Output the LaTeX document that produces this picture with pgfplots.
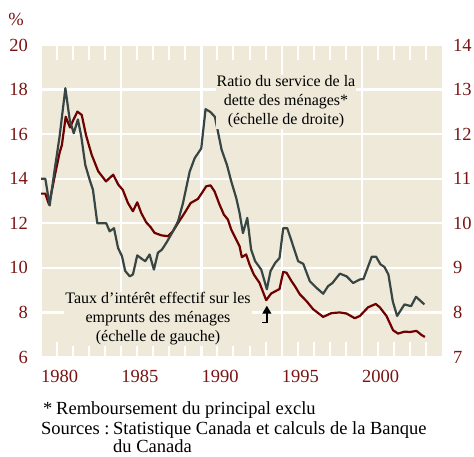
\documentclass[border=0pt]{standalone}
\usepackage{fontspec}
\setmainfont{Liberation Serif}
\usepackage{pgfplots}
\pgfplotsset{compat=1.18}
\usetikzlibrary{arrows.meta}
\definecolor{bg}{RGB}{238,233,216}
\definecolor{redl}{RGB}{110,0,0}
\definecolor{grnl}{RGB}{55,70,68}
\definecolor{lab}{RGB}{122,20,20}
\newcommand{\tickfont}{\fontsize{18.5bp}{20bp}\selectfont}
\newcommand{\annfont}{\fontsize{16bp}{19bp}\selectfont}
\newcommand{\notefont}{\fontsize{18.5bp}{21bp}\selectfont}
\begin{document}
\begin{tikzpicture}[x=1bp,y=1bp]
\path[use as bounding box] (0,0) rectangle (474,457);
\begin{axis}[
  at={(41bp,100bp)}, anchor=south west,
  scale only axis, width=401bp, height=312bp,
  xmin=1980, xmax=2005, ymin=6, ymax=20,
  axis background/.style={fill=bg},
  axis line style={draw=none},
  xtick={1980,1985,1990,1995,2000},
  minor xtick={1981,1982,1983,1984,1986,1987,1988,1989,1991,1992,1993,1994,1996,1997,1998,1999,2001,2002,2003,2004},
  ytick={6,8,...,20},
  ytick pos=left,
  xtick pos=both,
  tick align=inside,
  major tick length=15bp, minor tick length=15bp,
  xtick style={white, line width=2bp},
  minor x tick style={white, line width=2bp},
  ytick style={draw=none},
  xmajorgrids, ymajorgrids,
  major grid style={white, line width=2.2bp},
  /pgf/number format/assume math mode=true,
  /pgf/number format/1000 sep={},
  xticklabel style={anchor=north west, inner sep=0pt, yshift=-13bp, text=lab, font=\tickfont},
  yticklabel style={anchor=east, inner sep=0pt, xshift=-13bp, text=lab, font=\tickfont},
]
\addplot[redl, line width=2.2bp, line join=round] coordinates {
(1980.0,13.33) (1980.27,13.33) (1980.5,12.84) (1980.85,14.1) (1981.17,15.2) (1981.3,15.5)
(1981.54,16.78) (1981.81,16.3) (1982.02,16.64) (1982.27,17.01) (1982.54,16.86) (1982.8,15.97)
(1983.16,15.07) (1983.57,14.33) (1984.05,13.88) (1984.5,14.18) (1984.82,13.73) (1985.1,13.5)
(1985.42,12.91) (1985.73,12.54) (1986.0,12.94) (1986.25,12.46) (1986.56,12.04) (1986.83,11.83)
(1987.08,11.57) (1987.5,11.46) (1987.91,11.42) (1988.22,11.64) (1988.54,12.01) (1988.95,12.46)
(1989.33,12.91) (1989.78,13.09) (1990.03,13.36) (1990.3,13.66) (1990.57,13.7) (1990.82,13.43)
(1991.13,12.84) (1991.4,12.39) (1991.65,12.17) (1991.86,11.72) (1992.17,11.27) (1992.38,10.97)
(1992.52,10.48) (1992.79,10.6) (1993.0,10.15) (1993.27,9.7) (1993.62,9.33) (1994.04,8.55)
(1994.35,8.85) (1994.87,9.05) (1995.1,9.82) (1995.31,9.78) (1995.62,9.4) (1995.83,9.18)
(1996.14,8.81) (1996.55,8.51) (1996.97,8.14) (1997.59,7.8) (1998.11,7.97) (1998.63,8.0)
(1999.05,7.95) (1999.56,7.74) (1999.88,7.84) (2000.39,8.23) (2000.87,8.38) (2001.12,8.23)
(2001.54,7.84) (2001.95,7.2) (2002.26,7.05) (2002.68,7.14) (2002.99,7.12) (2003.41,7.17)
(2003.72,6.99) (2003.93,6.9)
};
\end{axis}
\begin{axis}[
  at={(41bp,100bp)}, anchor=south west,
  scale only axis, width=401bp, height=312bp,
  xmin=1980, xmax=2005, ymin=7, ymax=14,
  axis x line=none,
  axis y line*=right,
  axis line style={draw=none},
  ytick={7,8,...,14},
  ytick style={draw=none},
  /pgf/number format/assume math mode=true,
  yticklabel style={anchor=west, inner sep=0pt, xshift=11bp, text=lab, font=\tickfont},
]
\addplot[grnl, line width=2.2bp, line join=round] coordinates {
(1980.0,11.0) (1980.27,11.0) (1980.54,10.4) (1980.85,11.2) (1981.16,11.95) (1981.52,13.03)
(1981.79,12.32) (1982.04,12.02) (1982.3,12.33) (1982.51,11.95) (1982.76,11.31) (1983.03,10.98)
(1983.24,10.75) (1983.51,10.0) (1984.07,10.0) (1984.28,9.82) (1984.55,9.89) (1984.8,9.45)
(1985.05,9.26) (1985.25,8.93) (1985.53,8.81) (1985.73,8.85) (1986.0,9.28) (1986.29,9.2)
(1986.5,9.15) (1986.77,9.3) (1987.04,8.96) (1987.29,9.34) (1987.54,9.41) (1987.81,9.56)
(1988.12,9.75) (1988.54,10.04) (1988.85,10.45) (1989.27,11.16) (1989.58,11.46) (1989.99,11.68)
(1990.26,12.56) (1990.55,12.5) (1990.84,12.39) (1991.26,11.65) (1991.6,11.3) (1991.86,10.94)
(1992.17,10.57) (1992.38,10.23) (1992.59,9.78) (1992.86,10.12) (1993.1,9.41) (1993.35,9.15)
(1993.73,8.96) (1994.08,8.52) (1994.31,8.93) (1994.6,9.11) (1994.87,9.22) (1995.1,9.89)
(1995.35,9.89) (1995.62,9.6) (1996.03,9.15) (1996.35,9.09) (1996.76,8.7) (1997.18,8.55)
(1997.59,8.42) (1997.9,8.59) (1998.17,8.66) (1998.63,8.87) (1999.05,8.81) (1999.46,8.66)
(1999.88,8.74) (2000.1,8.75) (2000.62,9.25) (2000.89,9.25) (2001.16,9.08) (2001.41,9.02)
(2001.66,8.85) (2001.93,8.25) (2002.2,7.92) (2002.66,8.18) (2003.07,8.14) (2003.38,8.35)
(2003.9,8.18)
};
\draw[black, line width=1.3bp, -{Triangle[width=9bp,length=8bp]}] (axis cs:1993.77,7.77) -- (axis cs:1994.08,7.77) -- (axis cs:1994.08,8.15);
\end{axis}
\node[font=\tickfont, text=lab] at (16,438) {\%};
\node[font=\annfont, align=center, fill=bg, inner sep=1bp] at (286,355) {Ratio du service de la\\dette des ménages*\\(échelle de droite)};
\node[font=\annfont, align=center, fill=bg, inner sep=1bp] at (158,138) {Taux d’intérêt effectif sur les\\emprunts des ménages\\(échelle de gauche)};
\node[font=\notefont, anchor=base west, inner sep=0pt] at (43,42) {*};
\node[font=\notefont, anchor=base west, inner sep=0pt] at (56,42) {Remboursement du principal exclu};
\node[font=\notefont, anchor=base west, inner sep=0pt] at (41,22) {Sources :};
\node[font=\notefont, anchor=base west, inner sep=0pt] at (113,22) {Statistique Canada et calculs de la Banque};
\node[font=\notefont, anchor=base west, inner sep=0pt] at (113,4) {du Canada};
\end{tikzpicture}
\end{document}
